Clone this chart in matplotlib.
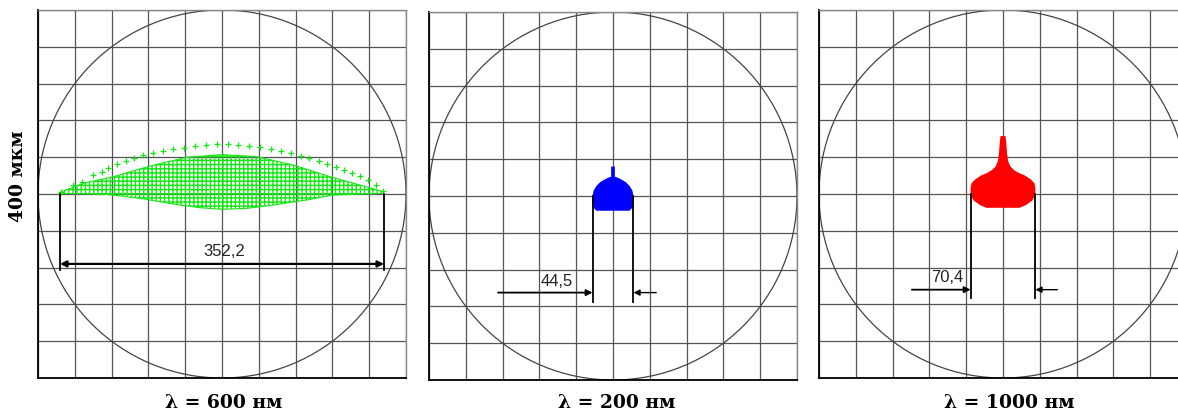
import numpy as np
import matplotlib
matplotlib.use("Agg")
import matplotlib.pyplot as plt
from matplotlib.patches import Circle, Polygon

plt.rcParams["hatch.linewidth"] = 1.0

# Spot diagrams, all coordinates in mkm (field of view 400 mkm)
FIELD = 400
wavelengths = [600, 200, 1000]
spot_widths = [352.2, 44.5, 70.4]
spot_colors = ["#14e814", "#0000ff", "#ff0000"]

# lambda = 600 nm: sparse outer arc of ray hits
green_arc_x = [-175.4, -161.6, -152.5, -139.9, -130.8, -123.5, -114.5, -104.4, -95.3, -85.5,
               -74.6, -64.5, -52.9, -41.3, -29.3, -17.8, -5.8, 6.2, 17.8, 29.3, 41.3, 52.9,
               64.1, 75.0, 85.9, 94.9, 105.8, 114.5, 123.9, 132.6, 140.9, 150.0, 159.1, 167.4, 175.4]
green_arc_y = [2.5, 9.8, 13.4, 20.7, 24.3, 27.9, 32.6, 35.9, 38.8, 42.0,
               44.2, 46.4, 48.5, 50.4, 52.2, 53.3, 54.0, 54.0, 53.3, 52.5, 50.7, 48.9,
               46.7, 44.2, 41.7, 38.8, 35.9, 32.6, 29.7, 26.1, 23.2, 19.6, 15.2, 9.8, 3.6]
# lambda = 600 nm: outline of the dense part
green_body_x = [-175.4, -150.7, -118.1, -78.3, -38.4, 0.4, 37.7, 77.5, 117.4, 150.0, 175.4,
                175.4, 121.0, 92.0, 55.8, 26.8, 0.4, -23.9, -52.9, -89.1, -125.4, -175.4]
green_body_y = [2.2, 11.6, 18.8, 30.4, 39.9, 42.8, 40.6, 31.5, 18.8, 9.8, 2.5,
                0.7, -1.1, -6.5, -12.0, -15.6, -16.7, -14.9, -10.9, -4.7, -0.4, 0.7]

# lambda = 200 nm
blue_x = [-22.3, -21, -18, -14, -9, -5, -2, -2, 2, 2, 5, 9, 14, 18, 21, 22.3,
          22.3, 20, 18, -18, -20, -22.3]
blue_y = [0, 6, 11, 15, 18, 20, 21, 32, 32, 21, 20, 18, 15, 11, 6, 0,
          -10, -14, -16, -16, -14, -10]

# lambda = 1000 nm
red_x = [-2.7, -3.6, -4.3, -5.5, -8, -12, -17, -24, -30, -34, -35.2, -35.2, -32, -25, -18,
         18, 25, 32, 35.2, 35.2, 34, 30, 24, 17, 12, 8, 5.5, 4.3, 3.6, 2.7]
red_y = [63, 55, 45, 36, 30, 26, 23, 20, 16, 12, 7, -1, -7, -12, -15,
         -15, -12, -7, -1, 7, 12, 16, 20, 23, 26, 30, 36, 45, 55, 63]

# dimension lines: extension bottom, arrow level, text position
ext_bottom = [-83, -115, -113]
arrow_y = [-76, -105, -104]
arrow_start = [None, (-125, 47), (-99, 59)]
text_pos = [(2, -63), (-61, -93), (-61, -91)]

# axes boxes in pixels (left, top) of a 368 px square
W, H = 1178, 412
boxes = [(38, 10), (429, 12), (819, 10)]
label_x = [224, 617, 1009]

fig = plt.figure(figsize=(W / 100, H / 100), dpi=100)

for i in range(3):
    left, top = boxes[i]
    ax = fig.add_axes([left / W, (H - top - 368) / H, 368 / W, 368 / H])
    ax.set_xlim(-FIELD / 2, FIELD / 2)
    ax.set_ylim(-FIELD / 2, FIELD / 2)
    ticks = np.arange(-200, 201, 40)
    ax.set_xticks(ticks)
    ax.set_yticks(ticks)
    ax.tick_params(length=0, labelleft=False, labelbottom=False)
    ax.grid(True, color="#555555", lw=0.9)
    ax.set_axisbelow(True)
    for s in ["top", "right"]:
        ax.spines[s].set_color("#888888")
        ax.spines[s].set_linewidth(1.0)
    for s in ["left", "bottom"]:
        ax.spines[s].set_color("black")
        ax.spines[s].set_linewidth(1.3)

    ax.add_patch(Circle((0, 0), FIELD / 2, fill=False, ec="#444444", lw=0.9))

    half = spot_widths[i] / 2
    if i == 0:
        ax.add_patch(Polygon(np.column_stack([green_body_x, green_body_y]), closed=True,
                             facecolor="none", edgecolor=spot_colors[0], lw=0.8, hatch="++++"))
        ax.scatter(green_arc_x, green_arc_y, marker="+", s=14, color=spot_colors[0], lw=0.9)
    elif i == 1:
        ax.fill(blue_x, blue_y, color=spot_colors[1], lw=0)
    else:
        ax.fill(red_x, red_y, color=spot_colors[2], lw=0)

    # extension lines
    for xe in (-half, half):
        ax.plot([xe, xe], [0, ext_bottom[i]], color="black", lw=1.3)

    if i == 0:
        ax.annotate("", xy=(half, arrow_y[i]), xytext=(-half, arrow_y[i]),
                    arrowprops=dict(arrowstyle="<|-|>", color="black", lw=1.6,
                                    mutation_scale=9, shrinkA=0, shrinkB=0))
    else:
        x0, x1 = arrow_start[i]
        ax.annotate("", xy=(-half, arrow_y[i]), xytext=(x0, arrow_y[i]),
                    arrowprops=dict(arrowstyle="-|>", color="black", lw=1.3,
                                    mutation_scale=9, shrinkA=0, shrinkB=0))
        ax.annotate("", xy=(half, arrow_y[i]), xytext=(x1, arrow_y[i]),
                    arrowprops=dict(arrowstyle="-|>", color="black", lw=1.0,
                                    mutation_scale=9, shrinkA=0, shrinkB=0))

    tx, ty = text_pos[i]
    ax.text(tx, ty, f"{spot_widths[i]:.1f}".replace(".", ","), ha="center", va="center",
            fontsize=12, family="Liberation Sans", color="#222222")

    fig.text(label_x[i] / W, (H - 403) / H, f"λ = {wavelengths[i]} нм", ha="center",
             va="center", fontsize=13.5, family="DejaVu Serif", weight="bold")

fig.text(18 / W, (H - 176) / H, "400 мкм", rotation=90, ha="center", va="center",
         fontsize=13.5, family="DejaVu Serif", weight="bold")

fig.savefig("out.png", dpi=100)
